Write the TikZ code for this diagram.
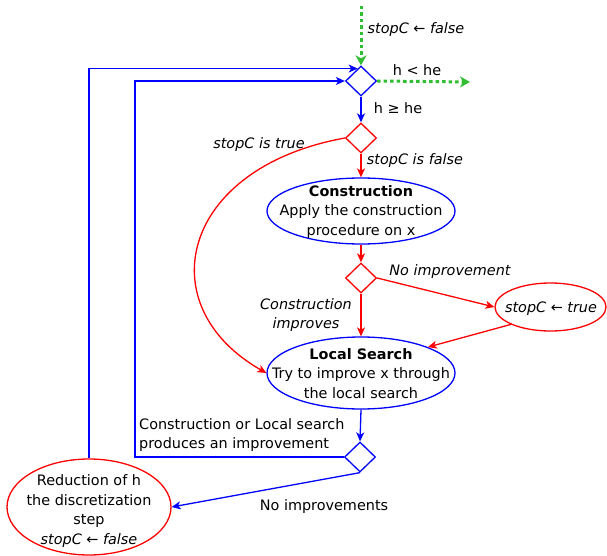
\documentclass[tikz,border=0pt]{standalone}
\usepackage{fontspec}
\setmainfont{DejaVu Sans}
\usetikzlibrary{shapes.geometric,arrows.meta}
\definecolor{okgreen}{RGB}{50,190,50}
\begin{document}
\begin{tikzpicture}[x=1pt,y=-1pt,
  txt/.style={inner sep=0pt, align=center, font=\fontsize{14.4}{19.8}\selectfont},
  it/.style={txt, font=\fontsize{14.4}{19.8}\selectfont\itshape},
  dia/.style={diamond, minimum width=31pt, minimum height=30pt, inner sep=0pt, line width=1.3pt},
  ell/.style={ellipse, inner sep=0pt, line width=1.3pt},
  flow/.style={line width=1.3pt, -{Stealth[length=9pt,width=8pt,inset=2.5pt]}},
  bl/.style={flow, blue},
  rd/.style={flow, red},
  gr/.style={okgreen, line width=3pt, dash pattern=on 3.5pt off 3pt,
             -{Stealth[length=10pt,width=11pt,inset=3pt]}}]
\useasboundingbox (0,0) rectangle (607,556);

% decision diamonds
\node[dia, draw=blue] (d1) at (361,81) {};
\node[dia, draw=red]  (d2) at (361,138) {};
\node[dia, draw=red]  (d3) at (361,278) {};
\node[dia, draw=blue] (d4) at (360,457) {};

% process ellipses
\node[ell, draw=blue, minimum width=188pt, minimum height=66pt] (con) at (361,211) {};
\node[txt] (contxt) at (361,212) {\textbf{Construction}\\Apply the construction\\procedure on x};

\node[ell, draw=red, minimum width=111pt, minimum height=48pt] (stopc) at (550.5,307) {};
\node[it] (stoptxt) at (551,309) {stopC ← true};

\node[ell, draw=blue, minimum width=188pt, minimum height=72pt] (ls) at (361,373) {};
\node[txt] (lstxt) at (361,373.5) {\textbf{Local Search}\\Try to improve x through\\the local search};

\node[ell, draw=red, minimum width=164pt, minimum height=96pt] (red) at (89,507) {};
\node[txt] (redtxt) at (89,511) {Reduction of h\\the discretization\\step\\\textit{stopC ← false}};

% edge labels
\node[it]  (lab1) at (416,30)  {stopC ← false};
\node[txt] (lab2) at (417,70)  {h < he};
\node[txt] (lab3) at (398,108) {h ≥ he};
\node[it]  (lab4) at (259,145) {stopC is true};
\node[it]  (lab5) at (415,161) {stopC is false};
\node[it]  (lab6) at (450,272) {No improvement};
\node[it]  (lab7) at (306,315) {Construction\\improves};
\node[txt, align=left, anchor=west] (lab8) at (139,435) {Construction or Local search\\produces an improvement};
\node[txt] (lab9) at (324,507) {No improvements};

% free ends and loop rail
\coordinate (start) at (361,6);
\coordinate (exit) at (470,82);
\coordinate (loopx) at (135,0);

% green entry and exit
\draw[gr] (start) -- (d1.north);
\draw[gr] (d1.east) -- (exit);

% main flow
\draw[bl] (d1.south) -- (d2.north);
\draw[rd] (d2.south) -- (con.north);
\draw[rd] (d2.west) .. controls +(-165,30) and +(-118,-67) .. (ls.west);
\draw[rd] (con.south) -- (d3.north);
\draw[rd] (d3.east) -- (stopc.west);
\draw[rd] (d3.south) -- (ls.north);
\draw[rd] (stopc.south west) -- (ls.north east);
\draw[bl] (ls.south) -- (d4.north);

% loops back to the top
\draw[bl] (d4.west) -- (d4.west -| loopx) |- (d1.west);
\draw[bl] (d4.south) -- (red.east);
\draw[bl] (red.north) |- (d1.105);
\end{tikzpicture}
\end{document}
